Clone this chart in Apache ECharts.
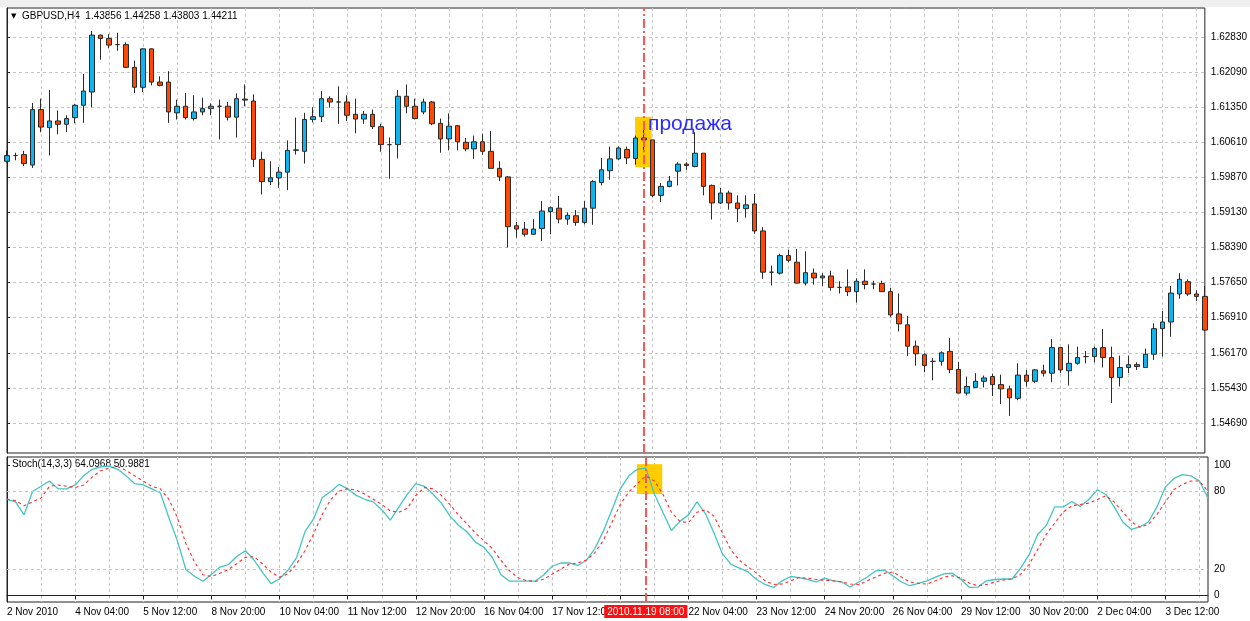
<!DOCTYPE html>
<html><head><meta charset="utf-8">
<script src="https://cdn.jsdelivr.net/npm/echarts@6/dist/echarts.min.js"></script>
<style>html,body{margin:0;padding:0;background:#fff}#c{width:1250px;height:621px}</style>
</head><body><div id="c"></div>
<script>
// ---- data (H4 bars, index 0..141) ----
const opens = [1.6021,1.6033,1.6035,1.6013,1.6130,1.6092,1.6106,1.6099,1.6113,1.6139,
1.6167,1.6287,1.6280,1.6267,1.6267,1.6219,1.6177,1.6258,1.6188,1.6188,
1.6123,1.6137,1.6111,1.6125,1.6132,1.6137,1.6137,1.6114,1.6152,1.6148,
1.6025,1.5978,1.5986,1.5998,1.6044,1.6042,1.6109,1.6115,1.6153,1.6146,
1.6146,1.6120,1.6110,1.6120,1.6094,1.6056,1.6056,1.6158,1.6137,1.6125,
1.6146,1.6101,1.6068,1.6096,1.6061,1.6047,1.6062,1.6042,1.6006,1.5988,
1.5885,1.5878,1.5867,1.5879,1.5915,1.5922,1.5899,1.5906,1.5892,1.5922,
1.5976,1.6001,1.6026,1.6046,1.6027,1.6070,1.6066,1.5949,1.5968,1.6000,
1.6015,1.6010,1.6038,1.5970,1.5933,1.5954,1.5933,1.5921,1.5931,1.5874,
1.5787,1.5785,1.5822,1.5808,1.5764,1.5785,1.5775,1.5779,1.5755,1.5756,
1.5746,1.5768,1.5762,1.5763,1.5746,1.5699,1.5676,1.5631,1.5613,1.5599,
1.5599,1.5620,1.5582,1.5532,1.5544,1.5557,1.5567,1.5550,1.5541,1.5521,
1.5570,1.5557,1.5579,1.5574,1.5628,1.5579,1.5595,1.5609,1.5609,1.5628,
1.5607,1.5565,1.5586,1.5592,1.5586,1.5614,1.5668,1.5682,1.5741,1.5767,
1.5741,1.5736];
const highs = [1.6044,1.6039,1.6043,1.6144,1.6153,1.6171,1.6128,1.6118,1.6142,1.6205,
1.6296,1.6288,1.6289,1.6292,1.6272,1.6233,1.6259,1.6259,1.6200,1.6211,
1.6151,1.6165,1.6160,1.6155,1.6143,1.6151,1.6146,1.6164,1.6183,1.6162,
1.6041,1.6021,1.6009,1.6065,1.6113,1.6123,1.6135,1.6169,1.6158,1.6179,
1.6160,1.6153,1.6127,1.6130,1.6100,1.6071,1.6171,1.6183,1.6153,1.6153,
1.6148,1.6111,1.6122,1.6097,1.6070,1.6075,1.6079,1.6085,1.6021,1.5990,
1.5893,1.5893,1.5899,1.5937,1.5925,1.5948,1.5913,1.5918,1.5937,1.5981,
1.6028,1.6052,1.6052,1.6052,1.6075,1.6096,1.6066,1.5975,1.5990,1.6019,
1.6019,1.6082,1.6038,1.5972,1.5965,1.5959,1.5949,1.5949,1.5952,1.5882,
1.5801,1.5826,1.5834,1.5836,1.5831,1.5795,1.5785,1.5790,1.5768,1.5793,
1.5774,1.5793,1.5769,1.5769,1.5754,1.5742,1.5695,1.5643,1.5616,1.5606,
1.5620,1.5648,1.5598,1.5567,1.5574,1.5569,1.5573,1.5571,1.5548,1.5595,
1.5581,1.5583,1.5592,1.5646,1.5629,1.5635,1.5630,1.5621,1.5630,1.5667,
1.5630,1.5611,1.5611,1.5597,1.5626,1.5679,1.5705,1.5758,1.5785,1.5772,
1.5749,1.5758];
const lows = [1.6018,1.6023,1.6011,1.6007,1.6082,1.6033,1.6078,1.6083,1.6101,1.6102,
1.6135,1.6235,1.6259,1.6254,1.6218,1.6165,1.6167,1.6181,1.6179,1.6102,
1.6109,1.6109,1.6107,1.6118,1.6118,1.6067,1.6107,1.6071,1.6137,1.6009,
1.5951,1.5971,1.5965,1.5960,1.6035,1.6016,1.6103,1.6104,1.6134,1.6100,
1.6106,1.6080,1.6100,1.6089,1.6041,1.5984,1.6027,1.6122,1.6109,1.6120,
1.6097,1.6039,1.6044,1.6044,1.6042,1.6026,1.6035,1.6006,1.5979,1.5839,
1.5860,1.5862,1.5866,1.5853,1.5867,1.5890,1.5887,1.5885,1.5888,1.5887,
1.5970,1.5982,1.6024,1.6015,1.6014,1.6040,1.5945,1.5935,1.5966,1.5970,
1.6003,1.6008,1.5949,1.5898,1.5931,1.5919,1.5893,1.5902,1.5868,1.5773,
1.5759,1.5782,1.5808,1.5763,1.5759,1.5761,1.5758,1.5748,1.5742,1.5737,
1.5723,1.5751,1.5751,1.5746,1.5693,1.5662,1.5610,1.5590,1.5576,1.5559,
1.5590,1.5574,1.5532,1.5527,1.5544,1.5544,1.5526,1.5509,1.5484,1.5517,
1.5546,1.5553,1.5567,1.5555,1.5574,1.5548,1.5592,1.5595,1.5597,1.5586,
1.5511,1.5546,1.5574,1.5581,1.5585,1.5602,1.5609,1.5651,1.5731,1.5737,
1.5726,1.5663];
const closes = [1.6033,1.6033,1.6016,1.6130,1.6093,1.6106,1.6099,1.6111,1.6139,1.6169,
1.6287,1.6280,1.6266,1.6267,1.6219,1.6177,1.6258,1.6188,1.6181,1.6125,
1.6137,1.6113,1.6125,1.6132,1.6137,1.6137,1.6114,1.6153,1.6150,1.6025,
1.5978,1.5986,1.5998,1.6044,1.6045,1.6109,1.6115,1.6153,1.6146,1.6146,
1.6118,1.6110,1.6120,1.6094,1.6056,1.6056,1.6158,1.6137,1.6111,1.6146,
1.6100,1.6068,1.6095,1.6062,1.6047,1.6062,1.6042,1.6006,1.5988,1.5883,
1.5878,1.5867,1.5878,1.5916,1.5923,1.5899,1.5907,1.5892,1.5922,1.5978,
1.6003,1.6026,1.6049,1.6028,1.6070,1.6066,1.5949,1.5968,1.5979,1.6015,
1.6012,1.6038,1.5968,1.5933,1.5954,1.5933,1.5921,1.5929,1.5874,1.5787,
1.5787,1.5822,1.5812,1.5764,1.5786,1.5775,1.5779,1.5755,1.5755,1.5746,
1.5768,1.5761,1.5762,1.5746,1.5697,1.5678,1.5631,1.5615,1.5590,1.5599,
1.5617,1.5582,1.5532,1.5546,1.5557,1.5564,1.5550,1.5541,1.5522,1.5570,
1.5557,1.5581,1.5574,1.5628,1.5581,1.5595,1.5607,1.5609,1.5626,1.5607,
1.5565,1.5586,1.5592,1.5588,1.5614,1.5668,1.5682,1.5743,1.5772,1.5741,
1.5736,1.5665];
const stochMain = [74,72,62,80,84,88,82,82,85,92,
97,99,99.5,97,92,86,85,82,79,60,
42,20,14.8,11,16.2,21.9,23.8,30.2,34.4,27.3,
17.7,9.1,12.9,19.6,29.2,49.3,58.9,75.2,80,85.5,
82,77,74,72,66,58,68,78,86,84,
78,71,61,54,49,41,37,29,16,11,
11,11,11,15.8,22.5,25,25,23.1,26.9,35.9,
49.3,65.6,82,92,97,98,78,64,50,57,
62,72,63,48,32,24,21,18.1,12.3,8.5,
6.2,11.3,14.6,13.8,12.3,10.4,13.3,11.3,10.4,6.5,
10.4,14.2,19,19.6,15.2,10.4,7.5,9.4,11.3,14.2,
16.7,17.1,12.3,6.2,6.5,11.3,12.3,12.7,12.7,21,
31.5,46.9,53.7,68.1,68.1,72.3,68.5,73.8,81.2,77.7,
68.1,56.5,50.8,52.7,56.5,68.1,83.5,90,93,92,
88,74.8];
const stochSignal = [74,73,69,72,75,84,85,84,83,85,
91,96,98,99,96,92,88,84,82,74,
60,40,26,16,14.6,17.1,20,24.6,29.4,29.8,
24.4,17.9,14.1,16.7,24.4,34.6,47.4,62.2,73.7,80.4,
82,81,78,74,70,65,64,67,77,83,
82,77,70,62,55,48,42,36,27,19,
13.7,11.4,10.8,12.5,16.4,20.2,24,25,27.3,32.8,
42.2,56,70,79.6,86,92,88,78,64,57,
56,64,66,61,48,35,27,21.9,17.1,11.3,
8.5,8.8,11.3,13.8,13.3,12.3,11.7,11.3,10.4,8.8,
8.5,11.3,14.2,17.1,18.1,14.2,10.4,9.4,8.8,11.3,
14.2,15.2,13.3,9.4,7.5,8.5,10.4,11.9,12.7,16.2,
23.8,35.4,46.9,55.6,64.2,69,70,71,73.8,76.7,
71.9,64.2,56.5,52.7,54.6,62.3,71.9,81.5,85.4,88,
88,80];
const priceTicks = [1.54690,1.55430,1.56170,1.56910,1.57650,1.58390,1.59130,1.59870,1.60610,1.61350,1.62090,1.62830];
const stochTicks = [0,20,80,100];
const timeLabels = ['2 Nov 2010','4 Nov 04:00','5 Nov 12:00','8 Nov 20:00','10 Nov 04:00','11 Nov 12:00',
 '12 Nov 20:00','16 Nov 04:00','17 Nov 12:00','18 Nov 20:00','22 Nov 04:00','23 Nov 12:00','24 Nov 20:00',
 '26 Nov 04:00','29 Nov 12:00','30 Nov 20:00','2 Dec 04:00','3 Dec 12:00'];
const markIndex = 75;
const markLabel = '2010.11.19 08:00';
const signalText = 'продажа';
const titleText = 'GBPUSD,H4  1.43856 1.44258 1.43803 1.44211';
const stochText = 'Stoch(14,3,3) 64.0968 50.9881';
const priceBox = [[73.93, 1.61149], [75.87, 1.60082]];
const stochBox = [[73.95, 101], [76.93, 78]];
const signalTextAt = [75.4, 1.60995];

// ---- chart ----
const categories = opens.map((_, i) => String(i));
const candles = opens.map((o, i) => [o, closes[i], lows[i], highs[i]]);
const FONT = 'Liberation Sans';
const gridDash = {color: '#c4c4c4', type: [3, 3], width: 1};
const last = opens.length - 1;

const chart = echarts.init(document.getElementById('c'), null, {renderer: 'canvas'});
chart.setOption({
  animation: false,
  backgroundColor: '#ffffff',
  textStyle: {fontFamily: FONT},
  grid: [
    {left: 7, top: 8, width: 1201, height: 445, show: true, borderColor: '#222', borderWidth: 1},
    {left: 7, top: 457, width: 1201, height: 145, show: true, borderColor: '#222', borderWidth: 1}
  ],
  xAxis: [
    {type: 'category', gridIndex: 0, data: categories, boundaryGap: false,
     axisLine: {show: false}, axisTick: {show: false}, axisLabel: {show: false},
     splitLine: {show: true, interval: 3, lineStyle: gridDash}},
    {type: 'category', gridIndex: 1, data: categories, boundaryGap: false,
     axisLine: {show: true, lineStyle: {color: '#222'}},
     axisTick: {show: true, interval: 7, length: 4, lineStyle: {color: '#222'}},
     axisLabel: {interval: 7, align: 'left', fontSize: 10, color: '#000', margin: 5, fontFamily: FONT,
       formatter: (v, i) => (i % 8 === 0 && timeLabels[i / 8] && i / 8 !== 9) ? timeLabels[i / 8] : ''},
     splitLine: {show: true, interval: 3, lineStyle: gridDash}},
    {type: 'value', gridIndex: 0, min: 0, max: last, show: false},
    {type: 'value', gridIndex: 1, min: 0, max: last, show: false}
  ],
  yAxis: [
    {type: 'value', gridIndex: 0, position: 'right', min: 1.54057, max: 1.63442, scale: true,
     axisLine: {show: true, lineStyle: {color: '#222'}},
     axisTick: {show: true, length: 3, customValues: priceTicks, lineStyle: {color: '#222'}},
     axisLabel: {customValues: priceTicks, formatter: v => v.toFixed(5), fontSize: 10, color: '#000', margin: 6, fontFamily: FONT},
     splitLine: {show: true, lineStyle: gridDash}},
    {type: 'value', gridIndex: 1, position: 'right', min: -5, max: 106.5,
     axisLine: {show: true, lineStyle: {color: '#222'}},
     axisTick: {show: true, length: 3, customValues: stochTicks, lineStyle: {color: '#222'}},
     axisLabel: {customValues: stochTicks, fontSize: 10, color: '#000', margin: 6, fontFamily: FONT},
     splitLine: {show: false}}
  ],
  series: [
    {type: 'line', name: 'annMain', xAxisIndex: 2, yAxisIndex: 0, data: [], z: 1,
     markArea: {silent: true, itemStyle: {color: '#ffcc00'},
       data: [[{coord: priceBox[0]}, {coord: priceBox[1]}]]}},
    {type: 'candlestick', xAxisIndex: 0, yAxisIndex: 0, data: candles, barWidth: 5, z: 3,
     itemStyle: {color: '#0cb4f2', color0: '#ff4800', borderColor: '#2a2a2a', borderColor0: '#2a2a2a', borderWidth: 1}},
    {type: 'line', name: 'annMainTop', xAxisIndex: 2, yAxisIndex: 0, data: [], z: 6,
     markLine: {silent: true, symbol: ['none', 'none'], animation: false,
       lineStyle: {color: '#ff5555', type: [9, 3, 2, 3], width: 2},
       label: {show: false}, data: [{xAxis: markIndex}]},
     markPoint: {silent: true, symbol: 'circle', symbolSize: 1, itemStyle: {color: 'rgba(0,0,0,0)'},
       label: {show: true, position: 'right', distance: 0, formatter: signalText, fontSize: 21,
         color: '#2b2bff', fontFamily: FONT},
       data: [{coord: signalTextAt}]}},
    {type: 'line', name: 'annStoch', xAxisIndex: 3, yAxisIndex: 1, data: [], z: 1,
     markArea: {silent: true, itemStyle: {color: '#ffcc00'},
       data: [[{coord: stochBox[0]}, {coord: stochBox[1]}]]},
     markLine: {silent: true, symbol: ['none', 'none'], animation: false,
       lineStyle: gridDash, label: {show: false},
       data: [{yAxis: 20}, {yAxis: 80}]}},
    {type: 'line', name: 'main', xAxisIndex: 1, yAxisIndex: 1, data: stochMain, showSymbol: false, symbol: 'none',
     lineStyle: {color: '#45c3c3', width: 1.3}, z: 4},
    {type: 'line', name: 'signal', xAxisIndex: 1, yAxisIndex: 1, data: stochSignal, showSymbol: false, symbol: 'none',
     lineStyle: {color: '#ff2a2a', width: 1.1, type: [3, 3]}, z: 4},
    {type: 'line', name: 'annStochTop', xAxisIndex: 3, yAxisIndex: 1, data: [], z: 6,
     markLine: {silent: true, symbol: ['none', 'none'], animation: false,
       lineStyle: {color: '#ff5555', type: [9, 3, 2, 3], width: 2},
       data: [{xAxis: markIndex,
         label: {show: true, position: 'start', formatter: markLabel, distance: 3,
           backgroundColor: '#ff1010', color: '#ffffff', padding: [2, 3, 1, 3], fontSize: 10, fontFamily: FONT}}]}}
  ],
  graphic: [
    {type: 'rect', shape: {x: 0, y: 0, width: 1250, height: 7}, style: {fill: '#efefef'}, silent: true},
    {type: 'text', left: 11, top: 13, style: {text: '▼', font: '7px "DejaVu Sans"', fill: '#000'}, silent: true},
    {type: 'text', left: 22, top: 11, style: {text: titleText, font: '10px "Liberation Sans"', fill: '#000'}, silent: true},
    {type: 'text', left: 12, top: 459, style: {text: stochText, font: '10px "Liberation Sans"', fill: '#000'}, silent: true}
  ]
});
</script></body></html>
